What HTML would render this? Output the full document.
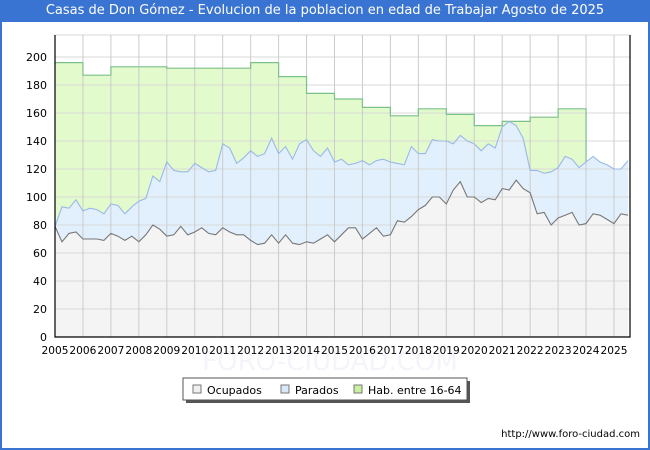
<!DOCTYPE html>
<html><head><meta charset="utf-8"><style>
html,body{margin:0;padding:0;background:#fff}
#wrap{position:relative;width:646px;height:448px;border:2px solid #3a74d3;border-top:none;background:#fff;overflow:hidden}
#title{position:absolute;left:0;top:0;width:646px;height:22px;background:#3a74d3;color:#fff;font:13px "DejaVu Sans",sans-serif;text-align:center;line-height:22px}
svg{position:absolute;left:-2px;top:0}
text{font-family:"DejaVu Sans",sans-serif}
</style></head><body>
<div id="wrap">
<div id="title">Casas de Don Gómez - Evolucion de la poblacion en edad de Trabajar Agosto de 2025</div>
<svg id="chart" width="650" height="450"></svg>
</div>
<script>
const years=[2005,2006,2007,2008,2009,2010,2011,2012,2013,2014,2015,2016,2017,2018,2019,2020,2021,2022,2023,2024,2025];
const habYears=[2005,2006,2007,2008,2009,2010,2011,2012,2013,2014,2015,2016,2017,2018,2019,2020,2021,2022,2023];
const habValues=[196,187,193,193,192,192,192,196,186,174,170,164,158,163,159,151,154,157,163];
const parados=[79,93,92,98, 90,92,91,88, 95,94,88,93, 97,99,115,111, 125,119,118,118, 124,121,118,119, 138,135,124,128, 133,129,131,142, 131,136,127,138, 141,133,129,135, 125,127,123,124, 126,123,126,127, 125,124,123,136, 131,131,141,140, 140,138,144,140, 138,133,138,135, 150,154,151,142, 119,119,117,118, 121,129,127,121, 125,129,125,123, 120,120,126];
const ocupados=[79,68,74,75, 70,70,70,69, 74,72,69,72, 68,73,80,77, 72,73,79,73, 75,78,74,73, 78,75,73,73, 69,66,67,73, 67,73,67,66, 68,67,70,73, 68,73,78,78, 70,74,78,72, 73,83,82,86, 91,94,100,100, 95,105,111,100, 100,96,99,98, 106,105,112,106, 103,88,89,80, 85,87,89,80, 81,88,87,84, 81,88,87];
const yTicks=[0,20,40,60,80,100,120,140,160,180,200];
const X0=55,X1=630,Y0=337,YT=35,YW=27.95;
const xs=t=>X0+(t-2005)*YW;
const ys=v=>Y0-v*1.4;
const svg=document.getElementById('chart');
const NS='http://www.w3.org/2000/svg';
function mk(tag,attrs,txt){const e=document.createElementNS(NS,tag);for(const k in attrs)e.setAttribute(k,attrs[k]);if(txt!=null)e.textContent=txt;svg.appendChild(e);return e;}
const tq=i=>2005+i/4;
let e=mk('text',{x:330,y:370,'text-anchor':'middle','font-size':26,fill:'#f4f5fb'},'FORO-CIUDAD.COM');


let hp=[];habYears.forEach((y,i)=>{hp.push([xs(y),ys(habValues[i])]);hp.push([xs(y+1),ys(habValues[i])]);});
const lastIdx=(2024-2005)*4;
hp.push([xs(2024),ys(parados[lastIdx])]);
let habArea='M'+xs(2005)+','+Y0+' '+hp.map(p=>'L'+p[0]+','+p[1]).join(' ')+' L'+xs(2024)+','+Y0+' Z';
e=mk('path',{d:habArea,fill:'#e3fbcc',stroke:'none'});


const pPts=parados.map((v,i)=>[xs(tq(i)),ys(v)]);
const oPts=ocupados.map((v,i)=>[xs(tq(i)),ys(v)]);
const lastX=pPts[pPts.length-1][0];
e=mk('path',{d:'M'+X0+','+Y0+' '+pPts.map(p=>'L'+p[0]+','+p[1]).join(' ')+' L'+lastX+','+Y0+' Z',fill:'#e2f0fd'});


e=mk('path',{d:'M'+X0+','+Y0+' '+oPts.map(p=>'L'+p[0]+','+p[1]).join(' ')+' L'+lastX+','+Y0+' Z',fill:'#f4f4f4'});


yTicks.forEach(v=>{if(v>0){const g=mk('line',{x1:X0,x2:X1,y1:ys(v),y2:ys(v),stroke:'#d8d8d8','stroke-width':1});}
 const t=mk('text',{x:47,y:ys(v)+4,'text-anchor':'end','font-size':11,fill:'#000'},v);});
mk('line',{x1:X0,x2:X1,y1:YT,y2:YT,stroke:'#d8d8d8'});
years.forEach(y=>{if(y>2005){const g=mk('line',{x1:xs(y),x2:xs(y),y1:YT,y2:Y0,stroke:'#cccccc'});}
 const t=mk('text',{x:xs(y),y:354,'text-anchor':'middle','font-size':10.5,fill:'#000',textLength:27,lengthAdjust:'spacingAndGlyphs'},y);});
e=mk('polyline',{points:hp.map(p=>p.join(',')).join(' '),fill:'none',stroke:'#7cc08a','stroke-width':1.2});


e=mk('polyline',{points:pPts.map(p=>p.join(',')).join(' '),fill:'none',stroke:'#9ab8e8','stroke-width':1.1});


e=mk('polyline',{points:oPts.map(p=>p.join(',')).join(' '),fill:'none',stroke:'#777','stroke-width':1.1});


e=mk('path',{d:`M${X0},${YT} L${X0},${Y0} L${X1},${Y0} L${X1},${YT}`,fill:'none',stroke:'#000','stroke-width':1.2});


mk('rect',{x:186,y:381,width:284,height:22,fill:'#555'});
e=mk('rect',{x:183,y:378,width:284,height:22,fill:'#fff',stroke:'#555'});


const legItems=[['Ocupados','#f0f0f0',193],['Parados','#d8e8fb',281],['Hab. entre 16-64','#c8f0a0',354]];
legItems.forEach(l=>{const r=mk('rect',{x:l[2],y:385,width:8,height:8,fill:l[1],stroke:'#777'});
 const t=mk('text',{x:l[2]+14,y:394,'font-size':11,fill:'#000'},l[0]);});
e=mk('text',{x:640,y:437,'text-anchor':'end','font-size':10,fill:'#000'},'http://www.foro-ciudad.com');


</script>
</body></html>
